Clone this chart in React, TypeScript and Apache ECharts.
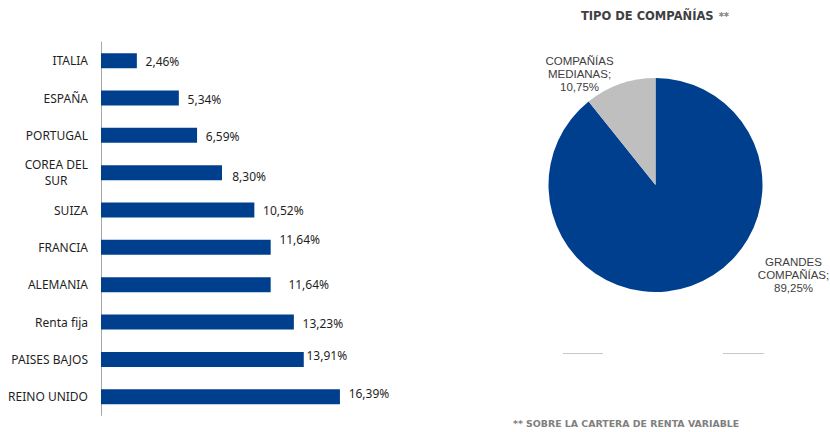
import React, { useEffect, useRef } from "react";
import * as echarts from "echarts";

const categories = [
  "ITALIA",
  "ESPAÑA",
  "PORTUGAL",
  "COREA DEL SUR",
  "SUIZA",
  "FRANCIA",
  "ALEMANIA",
  "Renta fija",
  "PAISES BAJOS",
  "REINO UNIDO",
];
const barValues = [2.46, 5.34, 6.59, 8.3, 10.52, 11.64, 11.64, 13.23, 13.91, 16.39];

const pieNames = ["GRANDES\nCOMPAÑÍAS", "COMPAÑÍAS\nMEDIANAS"];
const pieValues = [89.25, 10.75];

const titleText = "TIPO DE COMPAÑÍAS";
const footnoteText = "** SOBRE LA CARTERA DE RENTA VARIABLE";

// label styling offsets (presentation only)
const labelOffsets: [number, number][] = [
  [0, 1],
  [0, 1],
  [0, 1],
  [1.5, 3.5],
  [0, 0.5],
  [0, -8],
  [9, 0],
  [0, 1],
  [-6, -3.5],
  [0, -3],
];
const pieLabelPos: [number, number][] = [
  [793.5, 275],
  [579.5, 74],
];

const BLUE = "#003F8E";
const GREY = "#BFBFBF";

const fmt = (v: number) => v.toFixed(2).replace(".", ",") + "%";

export default function App() {
  const ref = useRef<HTMLDivElement>(null);
  useEffect(() => {
    document.body.style.margin = "0";
    if (!ref.current) return;
    const chart = echarts.init(ref.current, null, { renderer: "svg" });
    chart.setOption({
      animation: false,
      backgroundColor: "#ffffff",
      title: {
        text: "{b|" + titleText + "} {s|**}",
        left: 650,
        textAlign: "center",
        top: 2,
        textStyle: {
          rich: {
            b: { fontFamily: "DejaVu Sans", fontWeight: "bold", fontSize: 11.5, color: "#404040" },
            s: { fontFamily: "DejaVu Sans", fontWeight: "bold", fontSize: 10, color: "#7a7a7a" },
          },
        },
      },
      grid: { left: 101, top: 42, width: 262.4, height: 373.4, containLabel: false },
      xAxis: { type: "value", min: 0, max: 18, show: false },
      yAxis: {
        type: "category",
        data: categories,
        inverse: true,
        axisTick: { show: false },
        axisLine: { show: true, lineStyle: { color: "#A6A6A6", width: 1 } },
        axisLabel: {
          margin: 13,
          fontFamily: "Noto Sans",
          fontSize: 12,
          color: "#1f1f1f",
          formatter: (v: string) =>
            v === "COREA DEL SUR" ? "{c|COREA DEL}\n{c|SUR}{p|}" : v,
          rich: {
            c: {
              fontFamily: "Noto Sans",
              fontSize: 12,
              color: "#1f1f1f",
              lineHeight: 16.5,
            },
            p: { width: 20.5, fontSize: 12, lineHeight: 16.5 },
          },
        },
      },
      series: [
        {
          type: "bar",
          barWidth: 15,
          itemStyle: { color: BLUE },
          label: {
            show: true,
            position: "right",
            distance: 8.7,
            fontFamily: "Noto Sans",
            fontSize: 12,
            color: "#1f1f1f",
            formatter: (p: any) => fmt(p.value),
          },
          data: barValues.map((v, i) => ({
            value: v,
            label: { offset: labelOffsets[i] },
          })),
        },
        {
          type: "pie",
          center: [655.5, 185],
          radius: 107,
          startAngle: 90,
          clockwise: true,
          itemStyle: { borderWidth: 0 },
          emphasis: { disabled: true },
          label: {
            show: true,
            position: "outside",
            fontFamily: "Liberation Sans",
            fontSize: 11.5,
            lineHeight: 12.8,
            color: "#404040",
            align: "center",
            formatter: (p: any) => p.name + ";\n" + fmt(p.value),
          },
          labelLine: { show: false },
          labelLayout: (params: any) => {
            const pos = pieLabelPos[params.dataIndex];
            return { x: pos[0], y: pos[1], align: "center", verticalAlign: "middle" };
          },
          data: pieValues.map((v, i) => ({
            value: v,
            name: pieNames[i],
            itemStyle: { color: i === 0 ? BLUE : GREY },
          })),
        },
      ],
      graphic: [
        {
          type: "text",
          left: 513,
          top: 418.5,
          style: {
            text: footnoteText,
            fontFamily: "DejaVu Sans",
            fontWeight: "bold",
            fontSize: 9.4,
            fill: "#808080",
          },
        },
        {
          type: "line",
          shape: { x1: 563, y1: 353.5, x2: 603, y2: 353.5 },
          style: { stroke: "#C8C8C8", lineWidth: 1 },
        },
        {
          type: "line",
          shape: { x1: 723, y1: 353.5, x2: 764, y2: 353.5 },
          style: { stroke: "#C8C8C8", lineWidth: 1 },
        },
      ],
    });
    return () => chart.dispose();
  }, []);
  return <div ref={ref} style={{ width: 830, height: 432 }} />;
}
